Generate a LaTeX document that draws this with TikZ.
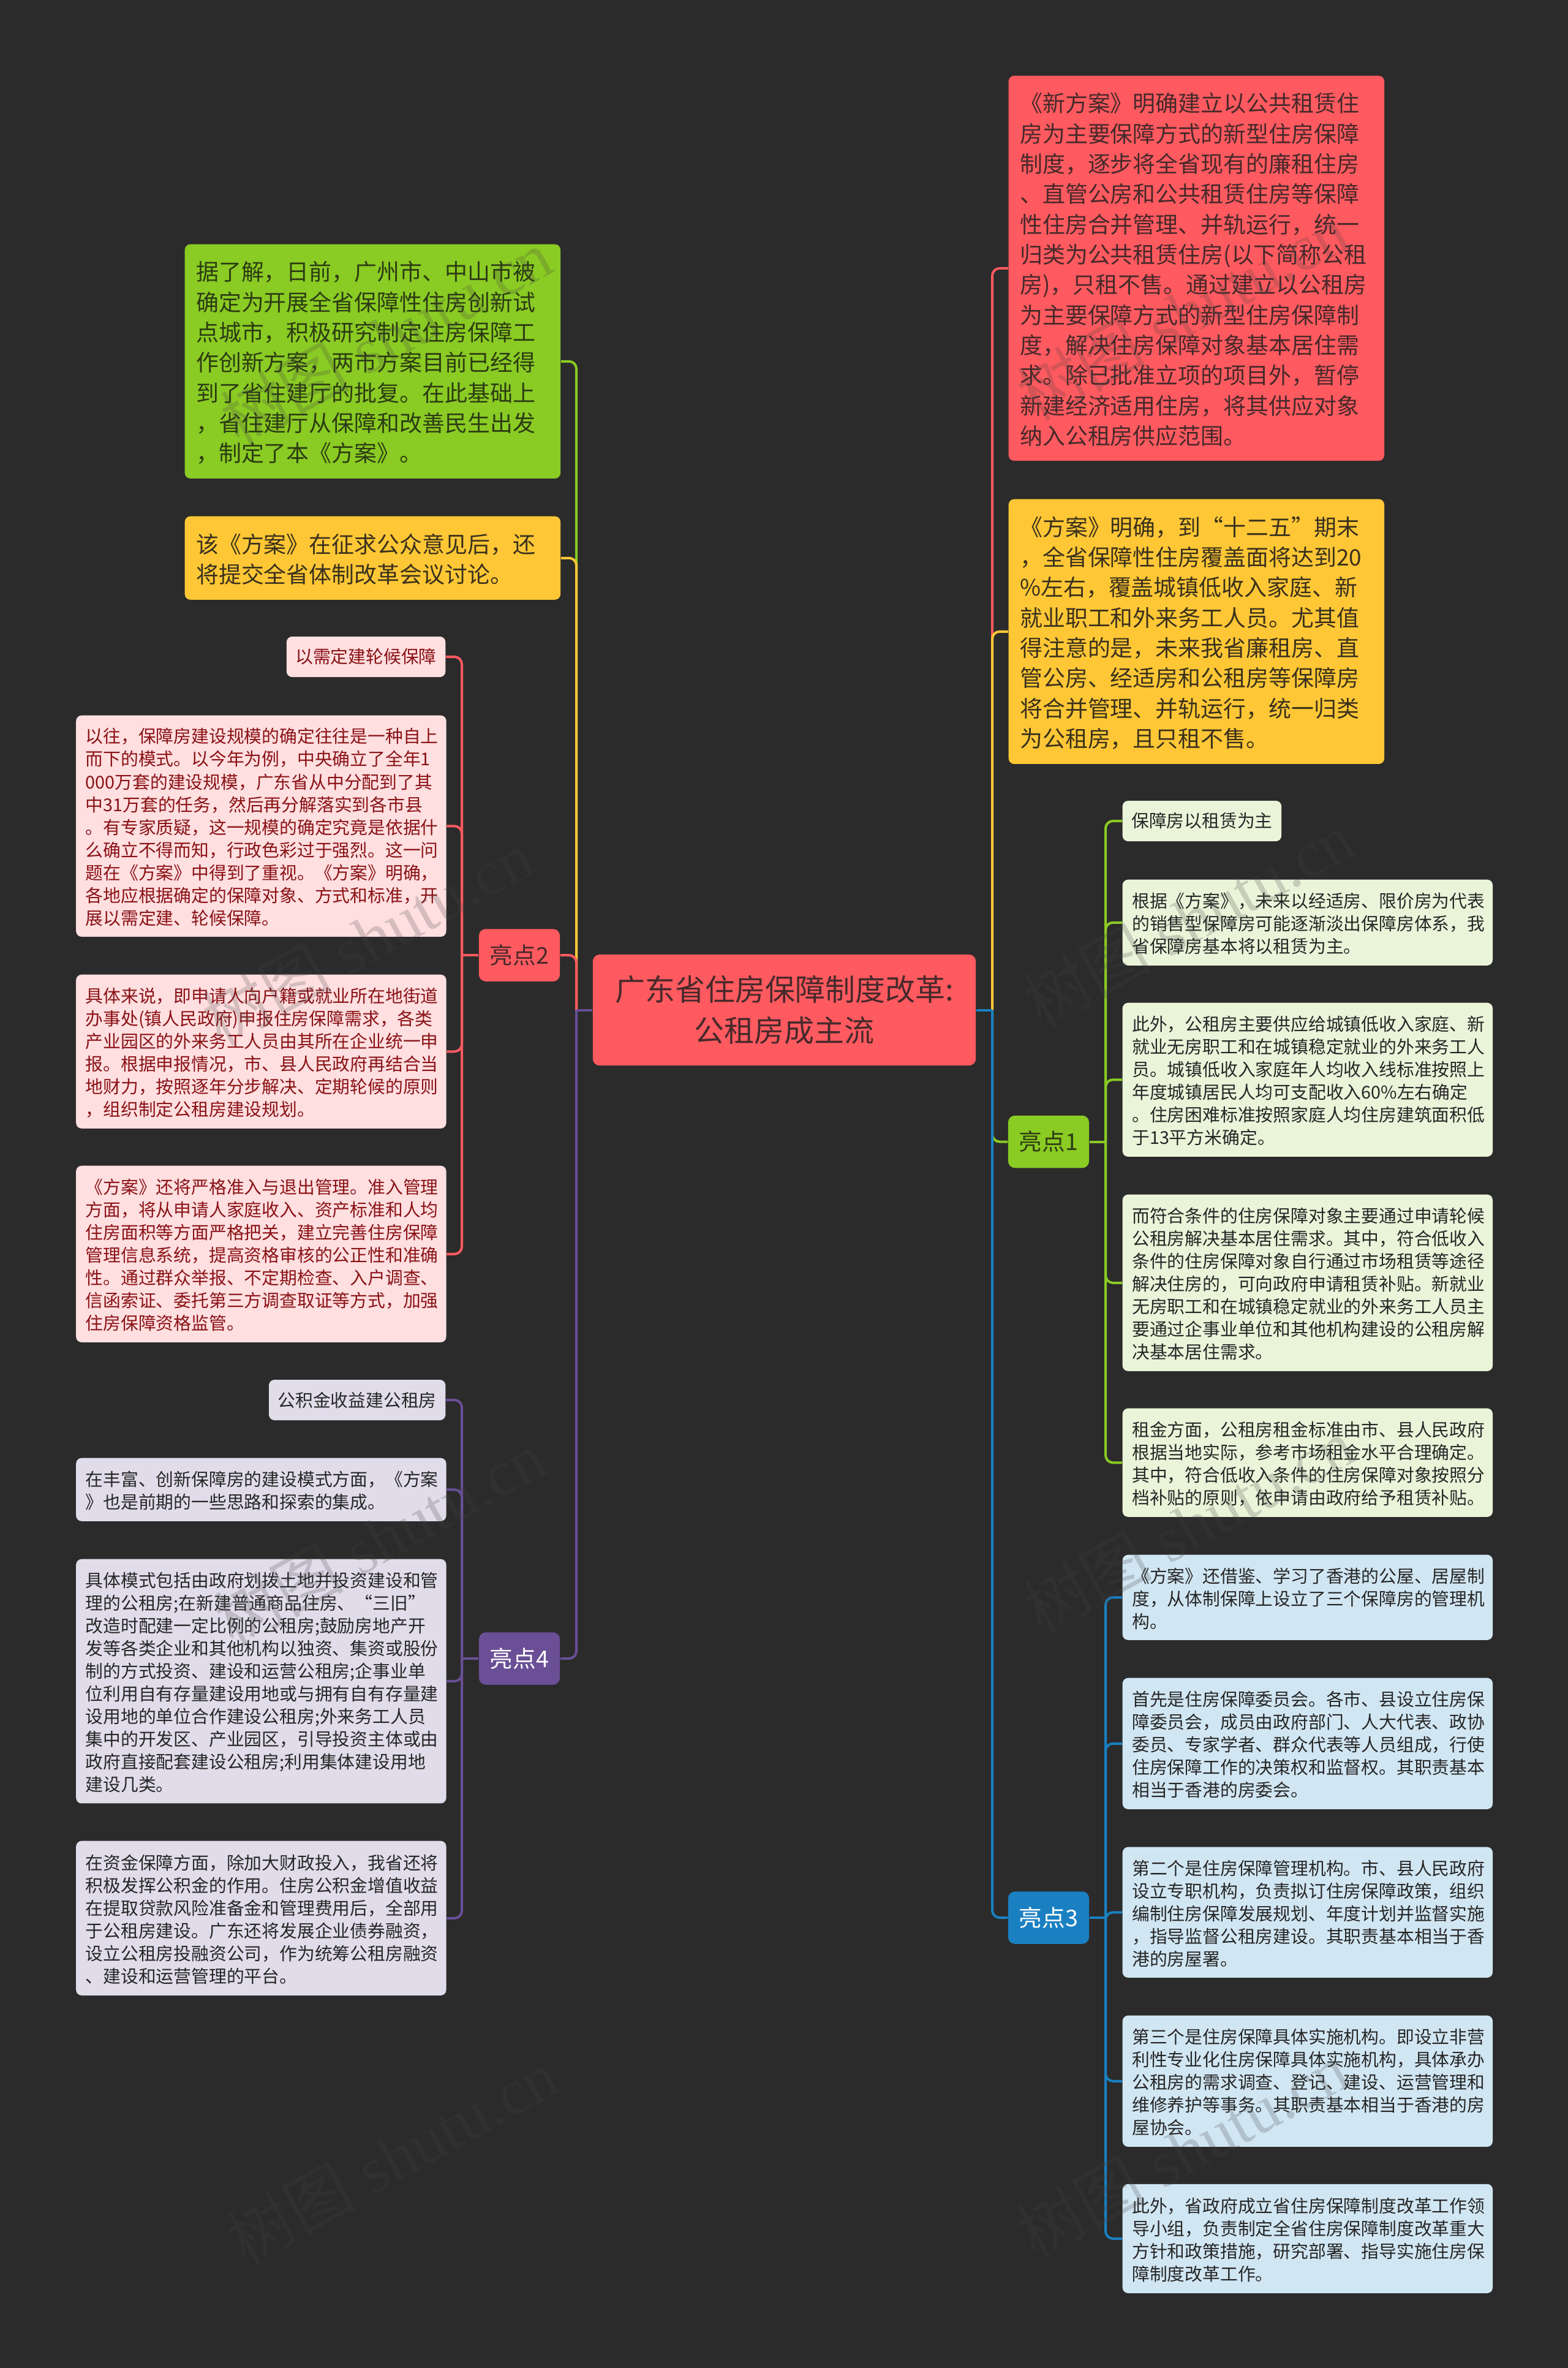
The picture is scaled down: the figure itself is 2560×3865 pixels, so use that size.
\documentclass[tikz,border=0pt]{standalone}
\usepackage{fontspec}
\setmainfont{Noto Sans CJK SC}
\newfontfamily\markfont{Liberation Serif}
\definecolor{bgcol}{HTML}{2B2B2B}
\definecolor{redcol}{HTML}{FF5A5F}
\definecolor{grncol}{HTML}{8ACB24}
\definecolor{yelcol}{HTML}{FFC736}
\definecolor{blucol}{HTML}{1A80C2}
\definecolor{purcol}{HTML}{6A4F96}
\definecolor{redtxt}{HTML}{47292B}
\definecolor{grntxt}{HTML}{2C3C12}
\definecolor{yeltxt}{HTML}{3A311C}
\definecolor{grnleaf}{HTML}{EAF4D9}
\definecolor{bluleaf}{HTML}{D1E6F3}
\definecolor{redleaf}{HTML}{FFDFE0}
\definecolor{purleaf}{HTML}{E1DCEA}
\definecolor{redink}{HTML}{8A1216}
\definecolor{leafink}{HTML}{262626}
\definecolor{markcol}{HTML}{424242}

\begin{document}
\begin{tikzpicture}[x=0.01cm,y=-0.01cm,
bigbox/.style = {rectangle, rounded corners=0.09cm, anchor=north west, align=left, inner xsep=0.185cm, inner ysep=0pt, text width=5.76cm, minimum width=6.13cm, execute at begin node={\rule{0pt}{0.97em}}, font=\fontsize{10.5pt}{14.03pt}\selectfont},
leaf/.style = {rectangle, rounded corners=0.09cm, anchor=north west, align=left, inner xsep=0.155cm, inner ysep=0pt, text width=5.73cm, minimum width=6.04cm, execute at begin node={\rule{0pt}{0.97em}}, font=\fontsize{8.19pt}{10.53pt}\selectfont},
tag/.style = {rectangle, rounded corners=0.09cm, inner xsep=0.145cm, inner ysep=0pt, minimum height=0.66cm, font=\fontsize{8.19pt}{10.53pt}\selectfont},
hub/.style = {rectangle, rounded corners=0.11cm, inner sep=0pt, minimum width=1.32cm, minimum height=0.855cm, font=\fontsize{10.7pt}{14pt}\selectfont},
link/.style = {line width=0.04cm, rounded corners=0.12cm},
wmark/.style = {rotate=29, text=markcol, opacity=0.22, font=\fontsize{30pt}{30pt}\markfont}]

\path[use as bounding box, fill=bgcol] (0,0) rectangle (2560,3865);

\node[rectangle, rounded corners=0.11cm, fill=redcol, text=redtxt, align=center, inner sep=0pt, minimum width=6.25cm, minimum height=1.81cm, font=\fontsize{13.94pt}{19.06pt}\selectfont] (root) at (1280.5,1648.5) {广东省住房保障制度改革:\\公租房成主流};

% right side
\node[bigbox, fill=redcol, text=redtxt, minimum height=6.28cm] (r1) at (1646,123) {《新方案》明确建立以公共租赁住\\房为主要保障方式的新型住房保障\\制度，逐步将全省现有的廉租住房\\、直管公房和公共租赁住房等保障\\性住房合并管理、并轨运行，统一\\归类为公共租赁住房(以下简称公租\\房)，只租不售。通过建立以公租房\\为主要保障方式的新型住房保障制\\度，解决住房保障对象基本居住需\\求。除已批准立项的项目外，暂停\\新建经济适用住房，将其供应对象\\纳入公租房供应范围。};
\node[bigbox, fill=yelcol, text=yeltxt, minimum height=4.32cm] (r2) at (1646,814) {《方案》明确，到“十二五”期末\\，全省保障性住房覆盖面将达到20\\\%左右，覆盖城镇低收入家庭、新\\就业职工和外来务工人员。尤其值\\得注意的是，未来我省廉租房、直\\管公房、经适房和公租房等保障房\\将合并管理、并轨运行，统一归类\\为公租房，且只租不售。};

\node[hub, fill=grncol, text=grntxt] (h1) at (1712,1863.5) {亮点1};
\node[tag, fill=grnleaf, text=leafink, anchor=west] (g1) at (1832,1340) {保障房以租赁为主};
\node[leaf, fill=grnleaf, text=leafink, minimum height=1.40cm] (g2) at (1832,1435) {根据《方案》，未来以经适房、限价房为代表\\的销售型保障房可能逐渐淡出保障房体系，我\\省保障房基本将以租赁为主。};
\node[leaf, fill=grnleaf, text=leafink, minimum height=2.51cm] (g3) at (1832,1636) {此外，公租房主要供应给城镇低收入家庭、新\\就业无房职工和在城镇稳定就业的外来务工人\\员。城镇低收入家庭年人均收入线标准按照上\\年度城镇居民人均可支配收入60\%左右确定\\。住房困难标准按照家庭人均住房建筑面积低\\于13平方米确定。};
\node[leaf, fill=grnleaf, text=leafink, minimum height=2.88cm] (g4) at (1832,1949) {而符合条件的住房保障对象主要通过申请轮候\\公租房解决基本居住需求。其中，符合低收入\\条件的住房保障对象自行通过市场租赁等途径\\解决住房的，可向政府申请租赁补贴。新就业\\无房职工和在城镇稳定就业的外来务工人员主\\要通过企事业单位和其他机构建设的公租房解\\决基本居住需求。};
\node[leaf, fill=grnleaf, text=leafink, minimum height=1.77cm] (g5) at (1832,2298) {租金方面，公租房租金标准由市、县人民政府\\根据当地实际，参考市场租金水平合理确定。\\其中，符合低收入条件的住房保障对象按照分\\档补贴的原则，依申请由政府给予租赁补贴。};

\node[hub, fill=blucol, text=white] (h3) at (1712,3130) {亮点3};
\node[leaf, fill=bluleaf, text=leafink, minimum height=1.39cm] (b1) at (1832,2537) {《方案》还借鉴、学习了香港的公屋、居屋制\\度，从体制保障上设立了三个保障房的管理机\\构。};
\node[leaf, fill=bluleaf, text=leafink, minimum height=2.14cm] (b2) at (1832,2738) {首先是住房保障委员会。各市、县设立住房保\\障委员会，成员由政府部门、人大代表、政协\\委员、专家学者、群众代表等人员组成，行使\\住房保障工作的决策权和监督权。其职责基本\\相当于香港的房委会。};
\node[leaf, fill=bluleaf, text=leafink, minimum height=2.13cm] (b3) at (1832,3014) {第二个是住房保障管理机构。市、县人民政府\\设立专职机构，负责拟订住房保障政策，组织\\编制住房保障发展规划、年度计划并监督实施\\，指导监督公租房建设。其职责基本相当于香\\港的房屋署。};
\node[leaf, fill=bluleaf, text=leafink, minimum height=2.14cm] (b4) at (1832,3289) {第三个是住房保障具体实施机构。即设立非营\\利性专业化住房保障具体实施机构，具体承办\\公租房的需求调查、登记、建设、运营管理和\\维修养护等事务。其职责基本相当于香港的房\\屋协会。};
\node[leaf, fill=bluleaf, text=leafink, minimum height=1.78cm] (b5) at (1832,3564) {此外，省政府成立省住房保障制度改革工作领\\导小组，负责制定全省住房保障制度改革重大\\方针和政策措施，研究部署、指导实施住房保\\障制度改革工作。};

% left side
\node[bigbox, fill=grncol, text=grntxt, minimum height=3.82cm] (l1) at (301,398) {据了解，日前，广州市、中山市被\\确定为开展全省保障性住房创新试\\点城市，积极研究制定住房保障工\\作创新方案，两市方案目前已经得\\到了省住建厅的批复。在此基础上\\，省住建厅从保障和改善民生出发\\，制定了本《方案》。};
\node[bigbox, fill=yelcol, text=yeltxt, minimum height=1.36cm] (l2) at (301,842) {该《方案》在征求公众意见后，还\\将提交全省体制改革会议讨论。};

\node[hub, fill=redcol, text=redtxt] (h2) at (848,1559) {亮点2};
\node[tag, fill=redleaf, text=redink, anchor=east] (p1) at (728,1072) {以需定建轮候保障};
\node[leaf, fill=redleaf, text=redink, minimum height=3.61cm] (p2) at (123.5,1167) {以往，保障房建设规模的确定往往是一种自上\\而下的模式。以今年为例，中央确立了全年1\\000万套的建设规模，广东省从中分配到了其\\中31万套的任务，然后再分解落实到各市县\\。有专家质疑，这一规模的确定究竟是依据什\\么确立不得而知，行政色彩过于强烈。这一问\\题在《方案》中得到了重视。《方案》明确，\\各地应根据确定的保障对象、方式和标准，开\\展以需定建、轮候保障。};
\node[leaf, fill=redleaf, text=redink, minimum height=2.51cm] (p3) at (123.5,1590) {具体来说，即申请人向户籍或就业所在地街道\\办事处(镇人民政府)申报住房保障需求，各类\\产业园区的外来务工人员由其所在企业统一申\\报。根据申报情况，市、县人民政府再结合当\\地财力，按照逐年分步解决、定期轮候的原则\\，组织制定公租房建设规划。};
\node[leaf, fill=redleaf, text=redink, minimum height=2.88cm] (p4) at (123.5,1902) {《方案》还将严格准入与退出管理。准入管理\\方面，将从申请人家庭收入、资产标准和人均\\住房面积等方面严格把关，建立完善住房保障\\管理信息系统，提高资格审核的公正性和准确\\性。通过群众举报、不定期检查、入户调查、\\信函索证、委托第三方调查取证等方式，加强\\住房保障资格监管。};

\node[hub, fill=purcol, text=white] (h4) at (848,2707) {亮点4};
\node[tag, fill=purleaf, text=leafink, anchor=east] (q1) at (728,2285) {公积金收益建公租房};
\node[leaf, fill=purleaf, text=leafink, minimum height=1.03cm] (q2) at (123.5,2379) {在丰富、创新保障房的建设模式方面，《方案\\》也是前期的一些思路和探索的集成。};
\node[leaf, fill=purleaf, text=leafink, minimum height=3.985cm] (q3) at (123.5,2544) {具体模式包括由政府划拨土地并投资建设和管\\理的公租房;在新建普通商品住房、“三旧”\\改造时配建一定比例的公租房;鼓励房地产开\\发等各类企业和其他机构以独资、集资或股份\\制的方式投资、建设和运营公租房;企事业单\\位利用自有存量建设用地或与拥有自有存量建\\设用地的单位合作建设公租房;外来务工人员\\集中的开发区、产业园区，引导投资主体或由\\政府直接配套建设公租房;利用集体建设用地\\建设几类。};
\node[leaf, fill=purleaf, text=leafink, minimum height=2.52cm] (q4) at (123.5,3004) {在资金保障方面，除加大财政投入，我省还将\\积极发挥公积金的作用。住房公积金增值收益\\在提取贷款风险准备金和管理费用后，全部用\\于公租房建设。广东还将发展企业债券融资，\\设立公租房投融资公司，作为统筹公租房融资\\、建设和运营管理的平台。};

% joints on the vertical lines
\coordinate (jr) at (1620,1648.5);
\coordinate (jl) at (941,1648.5);
\coordinate (j1) at (1805,1863.5);
\coordinate (j3) at (1805,3130);
\coordinate (j2) at (754,1559);
\coordinate (j4) at (754,2707);

\draw [link, redcol] (jr) |- (r1.west);
\draw [link, yelcol] (jr) |- (r2.west);
\draw [link, grncol] (jr) |- (h1.west);
\draw [link, blucol] (jr) |- (h3.west);
\draw [link, blucol] (root.east) -- (jr);

\draw [link, grncol] (h1.east) -- (j1);
\draw [link, grncol] (j1) |- (g1.west);
\draw [link, grncol] (j1) |- (g2.west);
\draw [link, grncol] (j1) |- (g3.west);
\draw [link, grncol] (j1) |- (g4.west);
\draw [link, grncol] (j1) |- (g5.west);

\draw [link, blucol] (h3.east) -- (j3);
\draw [link, blucol] (j3) |- (b1.west);
\draw [link, blucol] (j3) |- (b2.west);
\draw [link, blucol] (j3) |- (b3.west);
\draw [link, blucol] (j3) |- (b4.west);
\draw [link, blucol] (j3) |- (b5.west);

\draw [link, grncol] (jl) |- (l1.east);
\draw [link, yelcol] (jl) |- (l2.east);
\draw [link, redcol] (jl) |- (h2.east);
\draw [link, purcol] (jl) |- (h4.east);
\draw [link, purcol] (root.west) -- (jl);

\draw [link, redcol] (h2.west) -- (j2);
\draw [link, redcol] (j2) |- (p1.east);
\draw [link, redcol] (j2) |- (p2.east);
\draw [link, redcol] (j2) |- (p3.east);
\draw [link, redcol] (j2) |- (p4.east);

\draw [link, purcol] (h4.west) -- (j4);
\draw [link, purcol] (j4) |- (q1.east);
\draw [link, purcol] (j4) |- (q2.east);
\draw [link, purcol] (j4) |- (q3.east);
\draw [link, purcol] (j4) |- (q4.east);

\foreach \x/\y/\n in {630/550/w1, 1930/510/w2, 600/1530/w3, 1940/1500/w4, 620/2510/w5, 1940/2490/w6, 640/3520/w7, 1930/3510/w8}
  \node[wmark] (\n) at (\x,\y) {{\fontspec{Noto Sans CJK SC}树图} shutu.cn};
\end{tikzpicture}
\end{document}
